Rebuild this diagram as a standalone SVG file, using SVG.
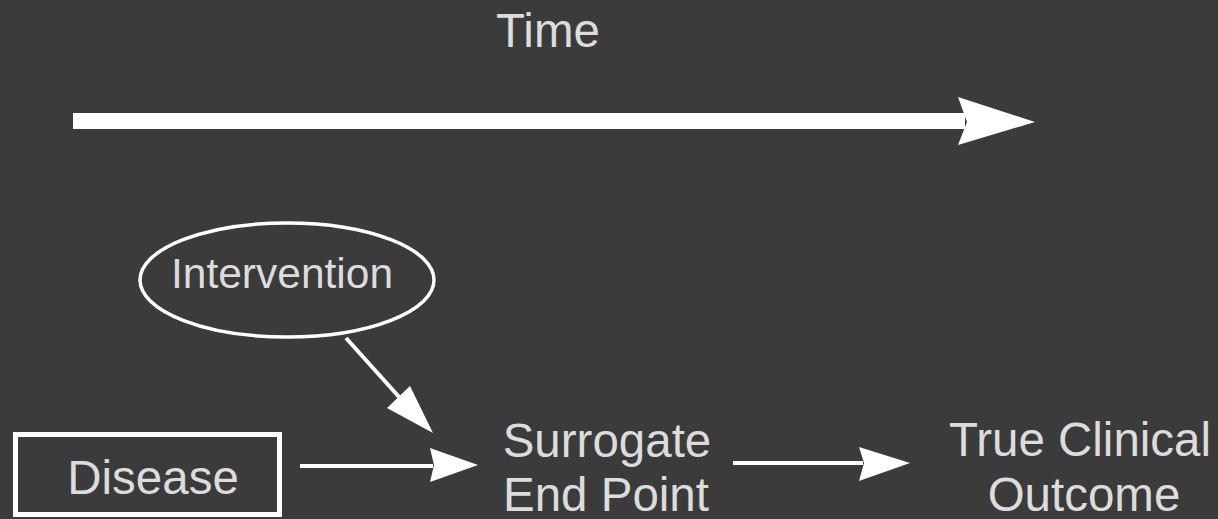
<svg xmlns="http://www.w3.org/2000/svg" width="1218" height="519" viewBox="0 0 1218 519">
<style>
.lbl{font-family:"Liberation Sans",Arial,sans-serif;fill:#dcdcdc;text-anchor:middle}
.big{font-size:47.5px}
.mid{font-size:42.5px}
.shape{fill:none;stroke:#ffffff}
.head{fill:#ffffff;stroke:none}
</style>
<rect x="0" y="0" width="1218" height="519" fill="#3b3b3b"/>
<g id="time">
<text class="lbl big" x="548" y="47">Time</text>
</g>
<g id="intervention">
<ellipse class="shape" cx="287" cy="280" rx="147" ry="57" stroke-width="3.5"/>
<text class="lbl mid" x="282" y="288">Intervention</text>
</g>
<g id="disease">
<rect class="shape" x="15.5" y="434.5" width="264" height="80" stroke-width="5"/>
<text class="lbl big" x="153" y="494">Disease</text>
</g>
<g id="surrogate">
<text class="lbl big" x="607" y="457">Surrogate</text>
<text class="lbl big" x="606" y="511">End Point</text>
</g>
<g id="outcome">
<text class="lbl big" x="1080" y="456">True Clinical</text>
<text class="lbl big" x="1084" y="511">Outcome</text>
</g>
<g id="connectors">
<rect class="head" x="73" y="113" width="892" height="16"/>
<polygon class="head" points="958,97 1035,122 958,145 967,122"/>
<line class="shape" x1="300" y1="466" x2="433" y2="466" stroke-width="4"/>
<polygon class="head" points="430,448 478,465 430,482 434,465"/>
<line class="shape" x1="733" y1="463" x2="863" y2="463" stroke-width="4"/>
<polygon class="head" points="859,447 910,463 859,481 864,463"/>
<line class="shape" x1="346" y1="338" x2="418" y2="418" stroke-width="4"/>
<polygon class="head" points="387,408 410,386 433,433"/>
</g>
</svg>
